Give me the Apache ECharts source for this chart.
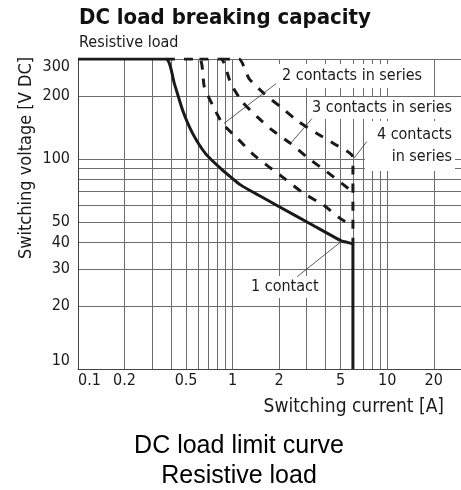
<!DOCTYPE html>
<html><head><meta charset="utf-8">
<script src="https://cdn.jsdelivr.net/npm/echarts@6/dist/echarts.min.js"></script>
<style>html,body{margin:0;padding:0;background:#fff}#c{width:461px;height:490px}</style>
</head><body><div id="c"></div>
<script>
// ---- data ----
const xGridValues = [0.1,0.2,0.3,0.4,0.5,0.6,0.7,0.8,0.9,1,2,3,4,5,6,7,8,9,10,20];
const yGridValues = [10,20,30,40,50,60,70,80,90,100,200,300];
const xTickLabels = [0.1,0.2,0.5,1,2,5,10,20];
const yTickLabels = [10,20,30,40,50,100,200,300];

const oneContactCurrent = [0.1,0.37,0.42,0.475,0.55,0.67,0.86,1.0,1.117,1.277,1.525,1.99,3.26,5.08,6.0,6.0];
const oneContactVoltage = [300,300,229,171,133,106,88.6,80.75,75.6,71.3,66.35,59.5,48.7,40.7,39,10];

const twoContactsCurrent = [0.37,0.61,0.656,0.742,0.86,1.074,1.375,1.717,2.2,2.88,3.87,4.96,6.0];
const twoContactsVoltage = [300,300,221,180.8,147.9,125.5,104.5,91.9,80.1,68.7,60.4,52.2,48];

const threeContactsCurrent = [0.61,0.84,0.974,1.156,1.444,1.803,2.37,3.1,4.07,5.08,6.0];
const threeContactsVoltage = [300,300,229,187.5,159,137.4,118.8,100.8,87.0,76.6,69.7];

const fourContactsCurrent = [0.84,1.1,1.277,1.594,2.04,2.68,3.51,4.5,6.0,6.0];
const fourContactsVoltage = [300,300,242,205.5,177.5,150.5,132.6,118.8,102,39];

// leader lines: [fromCurrent, fromVoltage, toCurrent, toVoltage]
const leader1 = [2.61,27.5,5.08,40.7];
const leader2 = [1.91,229,0.88,148];
const leader3 = [3.26,156,2.37,118.8];
const leader4 = [7.36,121,6.1,101];

const labelTexts = {
  title: 'DC load breaking capacity',
  subtitle: 'Resistive load',
  yName: 'Switching voltage [V DC]',
  xName: 'Switching current [A]',
  c1: '1 contact',
  c2: '2 contacts in series',
  c3: '3 contacts in series',
  c4: '4 contacts\nin series',
  caption: 'DC load limit curve\nResistive load'
};

// ---- build ----
const zip = (a, b) => a.map((v, i) => [v, b[i]]);
const FF = '"DejaVu Sans Condensed", "Liberation Sans Narrow", sans-serif';
const ink = '#1a1a1a';
const gridColor = '#6c6c6c';

const chart = echarts.init(document.getElementById('c'), null, {renderer: 'canvas'});

function leader(l) {
  return [{coord: [l[0], l[1]]}, {coord: [l[2], l[3]]}];
}

const option = {
  backgroundColor: '#fff',
  animation: false,
  grid: {left: 78, top: 59, width: 385, height: 310, containLabel: false},
  xAxis: {
    type: 'log', logBase: 10, min: 0.1, max: 30,
    axisLine: {show: true, lineStyle: {color: '#444', width: 1}},
    axisTick: {show: false, customValues: xGridValues},
    axisLabel: {
      customValues: xTickLabels, margin: 4, fontSize: 16, color: ink, fontFamily: FF,
      alignMinLabel: 'left', formatter: v => String(+(+v).toPrecision(6))
    },
    splitLine: {show: true, lineStyle: {color: gridColor, width: 1}},
    minorTick: {show: false}, minorSplitLine: {show: false}
  },
  yAxis: {
    type: 'log', logBase: 10, min: 10, max: 300,
    axisLine: {show: true, lineStyle: {color: '#444', width: 1}},
    axisTick: {show: false, customValues: yGridValues},
    axisLabel: {
      customValues: yTickLabels, margin: 8, fontSize: 16, color: ink, fontFamily: FF,
      verticalAlignMinLabel: 'bottom', verticalAlignMaxLabel: 'top',
      formatter: v => String(+(+v).toPrecision(6))
    },
    splitLine: {show: true, lineStyle: {color: gridColor, width: 1}},
    minorTick: {show: false}, minorSplitLine: {show: false}
  },
  series: [
    {
      name: '1 contact', type: 'line', data: zip(oneContactCurrent, oneContactVoltage),
      showSymbol: false, smooth: 0.2, z: 4,
      lineStyle: {color: ink, width: 3}
    },
    {
      name: '2 contacts', type: 'line', data: zip(twoContactsCurrent, twoContactsVoltage),
      showSymbol: false, smooth: 0.2, z: 3,
      lineStyle: {color: ink, width: 3, type: [9, 9]}
    },
    {
      name: '3 contacts', type: 'line', data: zip(threeContactsCurrent, threeContactsVoltage),
      showSymbol: false, smooth: 0.2, z: 3,
      lineStyle: {color: ink, width: 3, type: [9, 9]}
    },
    {
      name: '4 contacts', type: 'line', data: zip(fourContactsCurrent, fourContactsVoltage),
      showSymbol: false, smooth: 0.2, z: 3,
      lineStyle: {color: ink, width: 3, type: [9, 9]}
    },
    {
      name: 'leaders', type: 'line', data: [], z: 2,
      markLine: {
        silent: true, symbol: ['none', 'none'], label: {show: false},
        lineStyle: {color: '#333', width: 0.8, type: 'solid'},
        data: [leader(leader1), leader(leader2), leader(leader3), leader(leader4)]
      }
    }
  ],
  graphic: [
    {type: 'text', x: 79, y: 18, z: 5, style: {text: labelTexts.title, font: 'bold 22px ' + FF, fill: '#111', align: 'left', verticalAlign: 'middle'}},
    {type: 'text', x: 79, y: 43, z: 5, style: {text: labelTexts.subtitle, font: '16px ' + FF, fill: ink, align: 'left', verticalAlign: 'middle'}},
    {type: 'text', x: 26, y: 158, rotation: Math.PI / 2, z: 5, style: {text: labelTexts.yName, font: '18px ' + FF, fill: ink, align: 'center', verticalAlign: 'middle'}},
    {type: 'text', x: 444, y: 407, z: 5, style: {text: labelTexts.xName, font: '19px ' + FF, fill: ink, align: 'right', verticalAlign: 'middle'}},
    {type: 'text', x: 279, y: 76, z: 1, style: {text: labelTexts.c2, font: '16px ' + FF, fill: ink, align: 'left', verticalAlign: 'middle', backgroundColor: '#fff', padding: [4, 4, 4, 3]}},
    {type: 'text', x: 455, y: 108, z: 1, style: {text: labelTexts.c3, font: '16px ' + FF, fill: ink, align: 'right', verticalAlign: 'middle', backgroundColor: '#fff', padding: [3, 3, 3, 3]}},
    {type: 'text', x: 455, y: 146, z: 1, style: {text: labelTexts.c4, font: '16px ' + FF, lineHeight: 22, fill: ink, align: 'right', verticalAlign: 'middle', backgroundColor: '#fff', padding: [3, 3, 3, 12]}},
    {type: 'text', x: 248, y: 287, z: 1, style: {text: labelTexts.c1, font: '16px ' + FF, fill: ink, align: 'left', verticalAlign: 'middle', backgroundColor: '#fff', padding: [3, 3, 3, 3]}},
    {type: 'text', x: 239, y: 461, z: 5, style: {text: labelTexts.caption, font: '25px "Liberation Sans", Arial, sans-serif', lineHeight: 30, fill: '#000', align: 'center', verticalAlign: 'middle'}}
  ]
};
chart.setOption(option);
</script>
</body></html>
